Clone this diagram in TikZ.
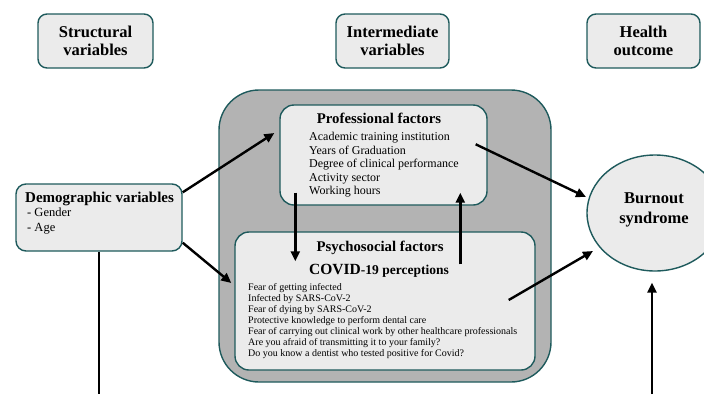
\documentclass[tikz,border=0pt]{standalone}
\usepackage{fontspec}
\setmainfont{Liberation Serif}
\usetikzlibrary{arrows.meta,calc,shapes.geometric}
\definecolor{boxfill}{HTML}{EBEBEB}
\definecolor{boxedge}{HTML}{1E5A5C}
\definecolor{outerfill}{HTML}{B3B3B3}
\tikzset{
  hdrbox/.style={draw=boxedge,fill=boxfill,line width=1.4pt,rounded corners=9pt,
    minimum width=113pt,minimum height=54pt,inner sep=0pt,align=center,
    font=\fontsize{16.5}{18.5}\selectfont\bfseries},
  facbox/.style={draw=boxedge,fill=boxfill,line width=1.4pt,rounded corners=14pt,inner sep=0pt},
  conn/.style={line width=2.4pt,-{Triangle[length=10pt,width=9pt]}},
  plainline/.style={line width=2.4pt},
  txt/.style={inner sep=0pt,align=left},
}
\begin{document}
\begin{tikzpicture}[x=1pt,y=-1pt]
\useasboundingbox (0,0) rectangle (704,394);
% headers
\node[hdrbox,minimum width=115pt] (hs) at (95.5,41) {Structural\\variables};
\node[hdrbox] (hi) at (392.5,41) {Intermediate\\variables};
\node[hdrbox] (ho) at (643.5,41) {Health\\outcome};
% outer grey box
\node[draw=boxedge,fill=outerfill,line width=1.4pt,rounded corners=40pt,
  minimum width=332pt,minimum height=292pt,inner sep=0pt] (outer) at (385,236) {};
% professional
\node[facbox,minimum width=207pt,minimum height=100pt] (prof) at (383.5,155) {};
\node[txt,font=\fontsize{14.8}{16}\selectfont\bfseries] (proft) at (379,118) {Professional factors};
\node[txt,anchor=west,font=\fontsize{12}{13.5}\selectfont] (profi) at (309,165)
  {Academic training institution\\Years of Graduation\\Degree of clinical performance\\Activity sector\\Working hours};
% psychosocial
\node[facbox,minimum width=300pt,minimum height=138pt] (psy) at (385,301) {};
\node[txt,font=\fontsize{14.8}{16}\selectfont\bfseries] (psyt) at (380,248) {Psychosocial factors};
\node[txt,font=\bfseries] (covid) at (379,271) {\fontsize{15.5}{18}\selectfont COVID\fontsize{13.5}{18}\selectfont-19 perceptions};
\node[txt,anchor=west,font=\fontsize{10}{11}\selectfont] (psyi) at (248,321)
  {Fear of getting infected\\Infected by SARS-CoV-2\\Fear of dying by SARS-CoV-2\\Protective knowledge to perform dental care\\Fear of carrying out clinical work by other healthcare professionals\\Are you afraid of transmitting it to your family?\\Do you know a dentist who tested positive for Covid?};
% demographic
\node[facbox,rounded corners=10pt,minimum width=166pt,minimum height=67pt] (demo) at (99,217.5) {};
\node[txt,anchor=west,font=\fontsize{15}{16}\selectfont\bfseries] (demot) at (25,199) {Demographic variables};
\node[txt,anchor=north west,font=\fontsize{12.5}{15}\selectfont] (demoi) at (27,208) {- Gender\\- Age};
% burnout
\node[ellipse,draw=boxedge,fill=boxfill,line width=1.4pt,minimum width=136pt,minimum height=116pt,inner sep=0pt] (burn) at (655,213) {};
\node[txt,align=center,font=\fontsize{16.5}{20}\selectfont\bfseries] (burnt) at (654,210) {Burnout\\syndrome};
% free ends
\coordinate (demobot) at (99,394);
\coordinate (burnbot) at (652,394);
% connectors
\draw[conn] ($(demo.north east)+(0,9)$) -- ($(prof.west)+(-5,-22)$);
\draw[conn] ($(demo.south east)+(0,-9)$) -- ($(psy.west)+(-3,-18)$);
\draw[conn] ($(prof.south west)+(16,-13)$) -- ($(psy.north west)+(61,30)$);
\draw[conn] ($(psy.north west)+(226,33)$) -- ($(prof.south west)+(181,-13)$);
\draw[conn] ($(prof.north east)+(-12,40)$) -- ($(burn.center)+(-69,-16)$);
\draw[conn] ($(psy.east)+(-27,-1)$) -- ($(burn.center)+(-62,38)$);
\draw[conn] (burnbot) -- ($(burn.south)+(-3,11)$);
\draw[plainline] (demo.south) -- (demobot);
\end{tikzpicture}
\end{document}
